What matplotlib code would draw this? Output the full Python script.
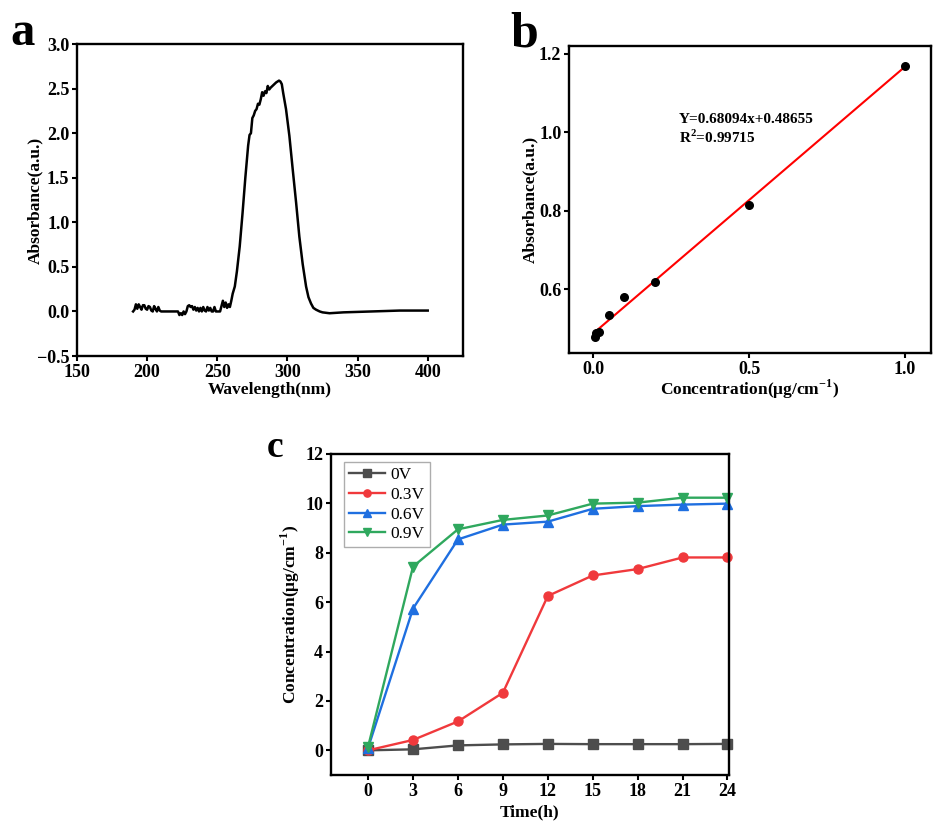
import matplotlib
matplotlib.use('Agg')
import matplotlib.pyplot as plt

plt.rcParams['font.family'] = ['Liberation Serif', 'DejaVu Serif']
plt.rcParams['font.weight'] = 'bold'
plt.rcParams['axes.labelweight'] = 'bold'
plt.rcParams['mathtext.fontset'] = 'custom'
plt.rcParams['mathtext.rm'] = 'Liberation Serif:bold'
plt.rcParams['mathtext.bf'] = 'Liberation Serif:bold'

# --- panel a: UV-vis spectrum ---
wavelength = [190, 191, 192, 193, 194, 195, 196, 197, 198, 199, 200, 201, 202, 203, 204,
              205, 206, 207, 208, 209, 210, 222, 223, 224, 225, 226, 227, 228, 229, 230,
              231, 232, 233, 234, 235, 236, 237, 238, 239, 240, 241, 242, 243, 244, 245,
              246, 247, 248, 249, 250, 252, 254, 255, 256, 257, 258, 259, 260, 261, 262.5,
              264, 266, 268, 270, 272, 273, 274, 275, 276, 277, 278, 279, 280, 281, 282,
              283, 284, 285, 286, 287, 288, 290, 292, 294, 295, 296, 297, 299, 301.4,
              303.8, 306.2, 308.5, 310.9, 313.3, 315, 316.8, 318.5, 320.4, 323, 325, 330,
              340, 360, 380, 400]
absorbance = [0.0, 0.02, 0.08, 0.03, 0.08, 0.05, 0.02, 0.07, 0.07, 0.03, 0.02, 0.06, 0.05, 0.01, 0.0,
              0.06, 0.03, 0.0, 0.05, 0.01, 0.0, 0.0, -0.04, -0.02, -0.04, 0.0, -0.03, 0.0, 0.06, 0.07,
              0.05, 0.06, 0.02, 0.05, 0.01, 0.04, 0.0, 0.04, 0.0, 0.05, 0.01, 0.0, 0.05, 0.01, 0.04,
              0.0, 0.0, 0.05, 0.0, 0.0, 0.0, 0.12, 0.05, 0.1, 0.04, 0.08, 0.05, 0.12, 0.2, 0.28,
              0.45, 0.73, 1.1, 1.5, 1.86, 1.98, 2.0, 2.17, 2.2, 2.25, 2.27, 2.33, 2.32, 2.38, 2.46,
              2.42, 2.47, 2.45, 2.53, 2.49, 2.51, 2.54, 2.57, 2.59, 2.58, 2.55, 2.45, 2.27, 1.97,
              1.59, 1.22, 0.84, 0.53, 0.28, 0.16, 0.09, 0.04, 0.02, 0.0, -0.01, -0.02,
              -0.01, 0.0, 0.01, 0.01]

# --- panel b: calibration curve ---
conc_std = [0.005, 0.01, 0.02, 0.05, 0.1, 0.2, 0.5, 1.0]
abs_std = [0.478, 0.489, 0.49, 0.534, 0.579, 0.618, 0.815, 1.17]
slope = 0.68094
intercept = 0.48655
fit_x = [0.003, 1.0]

# --- panel c: release over time ---
time_h = [0, 3, 6, 9, 12, 15, 18, 21, 24]
series_labels = ['0V', '0.3V', '0.6V', '0.9V']
conc_0v = [0.0, 0.04, 0.2, 0.24, 0.26, 0.25, 0.25, 0.25, 0.26]
conc_03v = [0.0, 0.42, 1.17, 2.33, 6.25, 7.08, 7.34, 7.81, 7.81]
conc_06v = [0.1, 5.74, 8.54, 9.14, 9.26, 9.78, 9.89, 9.95, 9.99]
conc_09v = [0.15, 7.44, 8.95, 9.33, 9.51, 9.99, 10.03, 10.23, 10.23]

fig = plt.figure(figsize=(9.41, 8.33), dpi=100)

tick_fs = 13
label_fs = 12.5


def style_axes(ax):
    for sp in ax.spines.values():
        sp.set_linewidth(1.7)
    ax.tick_params(direction='out', width=1.5, length=3.5, pad=2, labelsize=tick_fs)
    for lab in ax.get_xticklabels() + ax.get_yticklabels():
        lab.set_fontweight('bold')


# panel a
ax1 = fig.add_axes([0.0818, 0.5726, 0.410, 0.3745])
ax1.plot(wavelength, absorbance, color='black', lw=1.8)
ax1.set_xlim(150, 425)
ax1.set_ylim(-0.5, 3.0)
ax1.set_xticks([150, 200, 250, 300, 350, 400])
ax1.set_yticks([-0.5, 0.0, 0.5, 1.0, 1.5, 2.0, 2.5, 3.0])
ax1.set_yticklabels(['\u22120.5', '0.0', '0.5', '1.0', '1.5', '2.0', '2.5', '3.0'])
ax1.set_xlabel('Wavelength(nm)', fontsize=label_fs)
ax1.set_ylabel('Absorbance(a.u.)', fontsize=label_fs)
ax1.xaxis.set_label_coords(0.5, -0.082)
ax1.yaxis.set_label_coords(-0.088, 0.5)
style_axes(ax1)
fig.text(0.011, 0.946, 'a', fontsize=35, fontweight='bold')

# panel b
ax2 = fig.add_axes([0.6047, 0.5762, 0.3847, 0.3686])
ax2.scatter(conc_std, abs_std, color='black', s=30, zorder=3)
ax2.plot(fit_x, [slope * x + intercept for x in fit_x], color='red', lw=1.5)
ax2.set_xlim(-0.077, 1.083)
ax2.set_ylim(0.437, 1.22)
ax2.set_xticks([0.0, 0.5, 1.0])
ax2.set_yticks([0.6, 0.8, 1.0, 1.2])
ax2.set_xlabel('Concentration(\u03bcg/cm$^{-1}$)', fontsize=label_fs)
ax2.set_ylabel('Absorbance(a.u.)', fontsize=label_fs)
ax2.xaxis.set_label_coords(0.5, -0.08)
ax2.yaxis.set_label_coords(-0.085, 0.5)
ax2.text(0.276, 1.023, 'Y=0.68094x+0.48655', fontsize=11, fontweight='bold')
ax2.text(0.276, 0.972, 'R$^{2}$=0.99715', fontsize=11, fontweight='bold')
style_axes(ax2)
fig.text(0.542, 0.9436, 'b', fontsize=36, fontweight='bold')

# panel c
ax3 = fig.add_axes([0.3514, 0.0696, 0.4233, 0.3854])
colors = ['#4d4d4d', '#f0393c', '#1f6fe0', '#2fa85e']
markers = ['s', 'o', '^', 'v']
for vals, lab, col, mk in zip([conc_0v, conc_03v, conc_06v, conc_09v], series_labels, colors, markers):
    ax3.plot(time_h, vals, color=col, marker=mk, markersize=6.5, lw=1.7, label=lab, clip_on=False)
ax3.set_xlim(-2.5, 24.1)
ax3.set_ylim(-1, 12)
ax3.set_xticks(time_h)
ax3.set_yticks([0, 2, 4, 6, 8, 10, 12])
ax3.set_xlabel('Time(h)', fontsize=label_fs)
ax3.set_ylabel('Concentration(\u03bcg/cm$^{-1}$)', fontsize=label_fs)
ax3.xaxis.set_label_coords(0.5, -0.093)
ax3.yaxis.set_label_coords(-0.072, 0.5)
leg = ax3.legend(loc='upper left', bbox_to_anchor=(0.033, 0.975), fancybox=False,
                 prop={'family': 'Liberation Serif', 'weight': 'normal', 'size': 12.5},
                 handlelength=2.1, handletextpad=0.3, borderpad=0.3, labelspacing=0.2,
                 borderaxespad=0, markerscale=0.8)
leg.get_frame().set_edgecolor('#999999')
leg.get_frame().set_linewidth(1.0)
style_axes(ax3)
fig.text(0.283, 0.4514, 'c', fontsize=27, fontweight='bold')

fig.savefig('out.png', dpi=100)
